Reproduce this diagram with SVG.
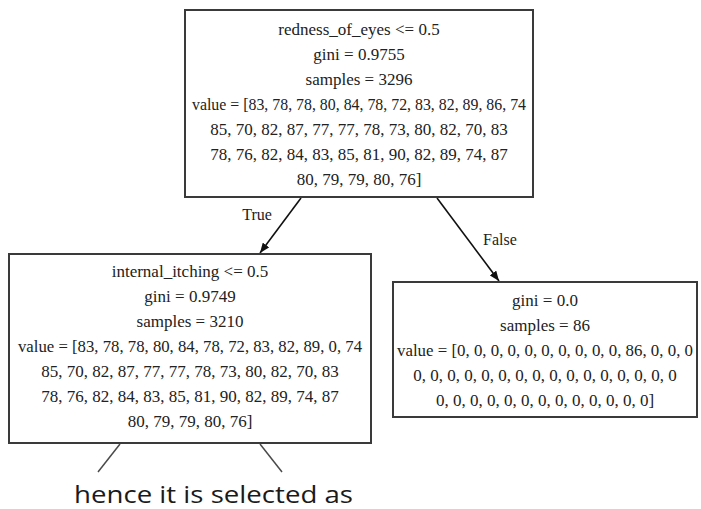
<svg xmlns="http://www.w3.org/2000/svg" width="701" height="509" viewBox="0 0 701 509">
<style>
.box{fill:#ffffff;stroke:#3a3a3a;stroke-width:2}
.t{font-family:"Liberation Serif","Times New Roman",serif;font-size:17px;fill:#222;text-anchor:middle}
.edge{stroke:#111;stroke-width:1.6;fill:none}
.lbl{font-family:"Liberation Serif","Times New Roman",serif;font-size:16px;fill:#222;text-anchor:middle}
.cap{font-family:"Open Sans","Noto Sans","Liberation Sans",sans-serif;font-size:23px;fill:#1a1a1a}
.thin{stroke:#4a4a4a;stroke-width:1.5}
</style>
<defs>
<marker id="ah" viewBox="0 0 10 10" refX="10" refY="5" markerWidth="10" markerHeight="8" markerUnits="userSpaceOnUse" orient="auto" preserveAspectRatio="none">
<path d="M0,0 L10,5 L0,10 z" fill="#111"/>
</marker>
</defs>
<rect width="701" height="509" fill="#ffffff"/>
<g id="connectors">
<line class="edge" x1="301" y1="198" x2="260" y2="253" marker-end="url(#ah)"/>
<line class="edge" x1="437" y1="198" x2="499" y2="281" marker-end="url(#ah)"/>
<text class="lbl" x="257" y="220">True</text>
<text class="lbl" x="500" y="245">False</text>
</g>
<g id="node0">
<rect class="box" x="185" y="10" width="348" height="187"/>
<text class="t" x="359" y="35">redness_of_eyes &lt;= 0.5</text>
<text class="t" x="359" y="60">gini = 0.9755</text>
<text class="t" x="359" y="85">samples = 3296</text>
<text class="t" x="359" y="110" textLength="334" lengthAdjust="spacingAndGlyphs">value = [83, 78, 78, 80, 84, 78, 72, 83, 82, 89, 86, 74</text>
<text class="t" x="359" y="135">85, 70, 82, 87, 77, 77, 78, 73, 80, 82, 70, 83</text>
<text class="t" x="359" y="160">78, 76, 82, 84, 83, 85, 81, 90, 82, 89, 74, 87</text>
<text class="t" x="359" y="185">80, 79, 79, 80, 76]</text>
</g>
<g id="node1">
<rect class="box" x="9" y="254" width="362" height="189"/>
<text class="t" x="190" y="277">internal_itching &lt;= 0.5</text>
<text class="t" x="190" y="302">gini = 0.9749</text>
<text class="t" x="190" y="327">samples = 3210</text>
<text class="t" x="190" y="352" textLength="344" lengthAdjust="spacingAndGlyphs">value = [83, 78, 78, 80, 84, 78, 72, 83, 82, 89, 0, 74</text>
<text class="t" x="190" y="377">85, 70, 82, 87, 77, 77, 78, 73, 80, 82, 70, 83</text>
<text class="t" x="190" y="402">78, 76, 82, 84, 83, 85, 81, 90, 82, 89, 74, 87</text>
<text class="t" x="190" y="427">80, 79, 79, 80, 76]</text>
</g>
<g id="node2">
<rect class="box" x="393" y="282" width="304" height="135"/>
<text class="t" x="545" y="306">gini = 0.0</text>
<text class="t" x="545" y="331">samples = 86</text>
<text class="t" x="545" y="356" textLength="296" lengthAdjust="spacingAndGlyphs">value = [0, 0, 0, 0, 0, 0, 0, 0, 0, 0, 86, 0, 0, 0</text>
<text class="t" x="545" y="381">0, 0, 0, 0, 0, 0, 0, 0, 0, 0, 0, 0, 0, 0, 0, 0</text>
<text class="t" x="545" y="406">0, 0, 0, 0, 0, 0, 0, 0, 0, 0, 0, 0, 0]</text>
</g>
<g id="annotation">
<line class="thin" x1="120" y1="444" x2="98" y2="472"/>
<line class="thin" x1="260" y1="444" x2="282" y2="472"/>
<text class="cap" x="74" y="503" textLength="279" lengthAdjust="spacingAndGlyphs">hence it is selected as</text>
</g>
</svg>
